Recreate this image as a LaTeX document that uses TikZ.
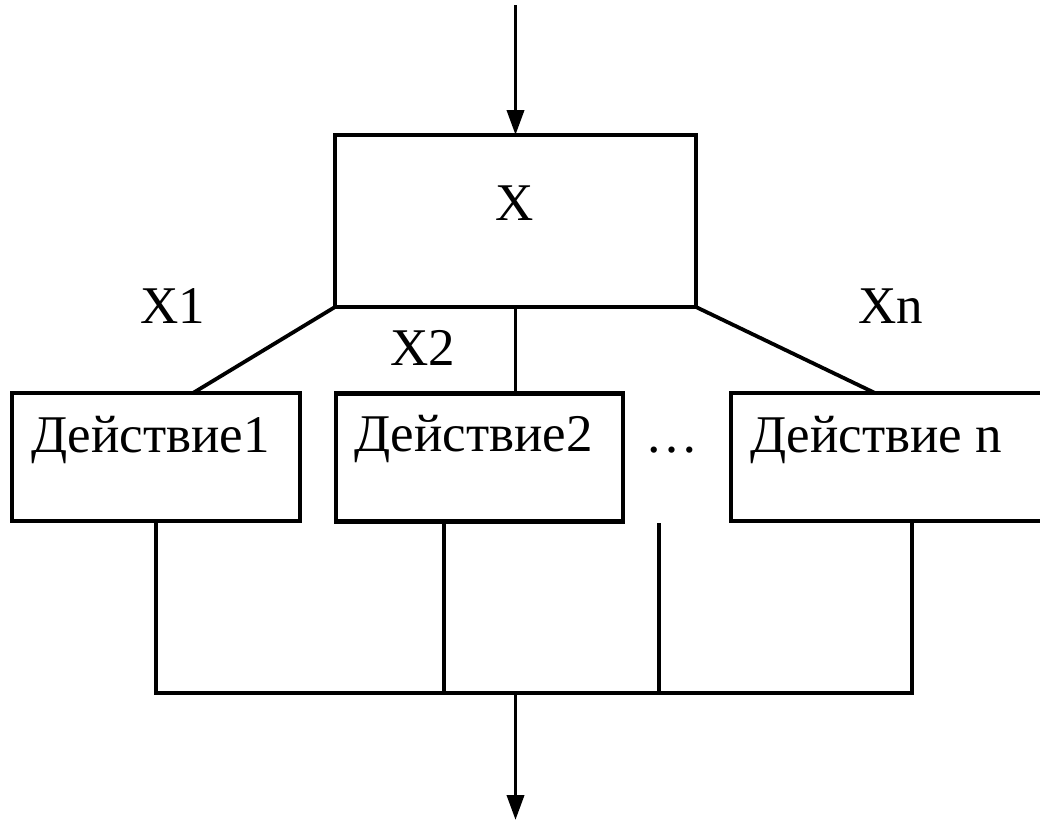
\documentclass[tikz,border=0pt]{standalone}
\usepackage{fontspec}
\setmainfont{Liberation Serif}
\usetikzlibrary{arrows.meta}
\begin{document}
\begin{tikzpicture}[x=1pt,y=-1pt,
  box/.style={draw,line width=4.4pt,rectangle,inner sep=0pt,outer sep=0pt},
  lbl/.style={inner sep=0pt,outer sep=0pt,anchor=base west,font=\fontsize{53}{60}\selectfont},
  conn/.style={line width=3.8pt},
  arr/.style={conn,-{Triangle[length=25pt,width=17pt]}}]
\useasboundingbox (0,0) rectangle (1040,820);
% boxes
\node[box,minimum width=361pt,minimum height=172pt] (xb) at (515.5,221) {};
\node[box,minimum width=288pt,minimum height=128pt] (b1) at (156,457) {};
\node[box,minimum width=287pt,minimum height=128pt] (b2) at (479.5,457.5) {};
\node[box,minimum width=320pt,minimum height=128pt] (bn) at (891,457) {};
% texts
\node[lbl,anchor=base] (tx) at (515,220) {X};
\node[lbl] (t1) at (31,452) {Действие1};
\node[lbl] (t2) at (354,451) {Действие2};
\node[lbl] (tn) at (750,452) {Действие n};
\node[lbl] (l1) at (140,323) {X1};
\node[lbl] (l2) at (390,365) {X2};
\node[lbl] (ln) at (858,323) {Xn};
\node[lbl] (dots) at (645,452) {…};
% coordinates
\coordinate (top) at (515.5,5);
\coordinate (dtop) at (659,523);
\coordinate (join) at (515.5,693);
\coordinate (bot) at (515.5,820);
% connectors
\draw[arr] (top) -- (xb.north);
\draw[conn] (xb.south west) -- ([xshift=181pt]b1.north west);
\draw[conn] (xb.south) -- (xb.south |- b2.north);
\draw[conn] (xb.south east) -- ([xshift=144pt]bn.north west);
\draw[conn] (b1.south) -- (b1.south |- join) -- ([xshift=181pt]bn.south west |- join) -- ([xshift=181pt]bn.south west);
\draw[conn] ([xshift=108pt]b2.south west) -- ([xshift=108pt]b2.south west |- join);
\draw[conn] (dtop) -- (dtop |- join);
\draw[arr] (join) -- (bot);
\end{tikzpicture}
\end{document}
